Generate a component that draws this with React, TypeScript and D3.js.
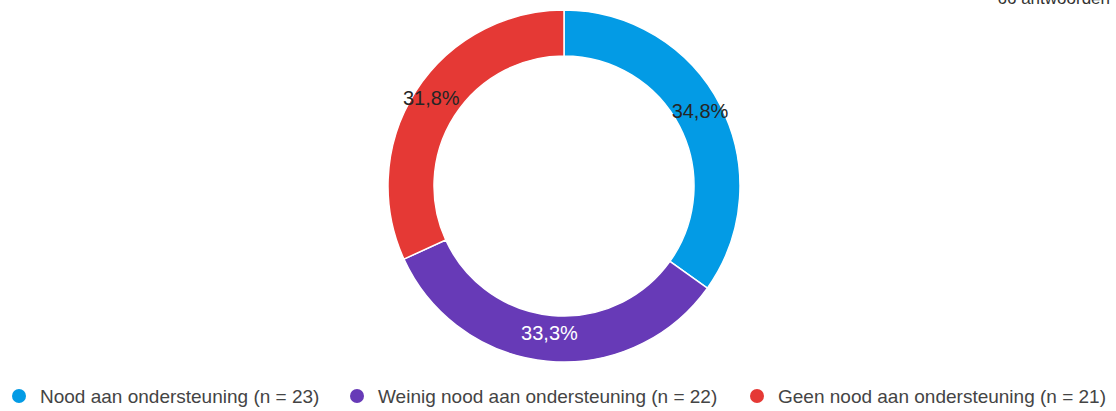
import React from "react";
import * as d3 from "d3";

const categories = [
  "Nood aan ondersteuning",
  "Weinig nood aan ondersteuning",
  "Geen nood aan ondersteuning",
];
const counts = [23, 22, 21];
const colors = ["#039be5", "#673ab7", "#e53935"];
const labelColors = ["#262626", "#ffffff", "#262626"];
const totalLabel = "66 antwoorden";
const legendX = [19, 357, 757];

const W = 1116;
const H = 411;
const cx = 564;
const cy = 186;
const outerR = 176;
const innerR = 130;

export default function App() {
  const total = d3.sum(counts);
  const pie = d3
    .pie<number>()
    .sort(null)
    .value((d) => d);
  const arcs = pie(counts);
  const arc = d3
    .arc<d3.PieArcDatum<number>>()
    .innerRadius(innerR)
    .outerRadius(outerR);
  const fmt = (v: number) =>
    ((v / total) * 100).toFixed(1).replace(".", ",") + "%";

  return (
    <svg
      width={W}
      height={H}
      style={{ position: "absolute", left: 0, top: 0, background: "#fff" }}
      fontFamily="'Liberation Sans', Arial, sans-serif"
    >
      <rect width={W} height={H} fill="#fff" />
      <text x={1110} y={4} textAnchor="end" fontSize={17} fill="#333">
        {totalLabel}
      </text>
      <g transform={`translate(${cx},${cy})`}>
        {arcs.map((a, i) => (
          <path
            key={i}
            d={arc(a) || ""}
            fill={colors[i]}
            stroke="#fff"
            strokeWidth={1.5}
          />
        ))}
        {arcs.map((a, i) => {
          const [x, y] = arc.centroid(a);
          return (
            <text
              key={"l" + i}
              x={x - (i === 2 ? 4 : 0)}
              y={y - 5}
              textAnchor="middle"
              dominantBaseline="central"
              fontSize={20}
              fill={labelColors[i]}
            >
              {fmt(counts[i])}
            </text>
          );
        })}
      </g>
      <g>
        {categories.map((c, i) => (
          <g key={c}>
            <circle cx={legendX[i]} cy={396} r={7} fill={colors[i]} />
            <text
              x={legendX[i] + 21}
              y={403}
              fontSize={19}
              fill="#444"
            >
              {`${c} (n = ${counts[i]})`}
            </text>
          </g>
        ))}
      </g>
    </svg>
  );
}
